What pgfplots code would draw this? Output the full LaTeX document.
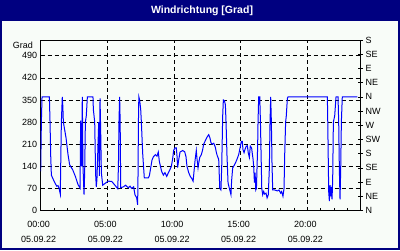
\documentclass[border=0pt]{standalone}
\usepackage{pgfplots}
\pgfplotsset{compat=1.18}
\usepackage{fontspec}
\setmainfont{Liberation Sans}
\definecolor{navy}{HTML}{000080}
\definecolor{panel}{HTML}{F8FCF8}
\definecolor{wblue}{HTML}{0000FF}
\begin{document}
\begin{tikzpicture}[x=1pt,y=1pt]
\useasboundingbox (0pt,0pt) rectangle (400pt,250pt);
\fill[navy] (0pt,0pt) rectangle (400pt,250pt);
\fill[panel] (2pt,2pt) rectangle (398pt,229.5pt);
\node[white,font=\fontsize{10.5}{12}\selectfont\bfseries] at (202pt,239.5pt) {Windrichtung [Grad]};
\begin{axis}[
  at={(40.7pt,39.5pt)}, anchor=south west,
  scale only axis, width=320pt, height=170.5pt,
  xmin=0, xmax=24, ymin=0, ymax=540,
  axis background/.style={fill=panel},
  axis line style={black, line width=0.8pt},
  xtick={0,5,10,15,20},
  xticklabels={{00:00\\05.09.22},{05:00\\05.09.22},{10:00\\05.09.22},{15:00\\05.09.22},{20:00\\05.09.22}},
  xticklabel style={align=center, font=\fontsize{9}{14.3}\selectfont, yshift=-7.5pt, xshift=-2pt},
  minor xtick={1,2,3,4,6,7,8,9,11,12,13,14,16,17,18,19,21,22,23},
  xtick pos=bottom,
  ytick={0,70,140,210,280,350,420,490},
  ytick pos=left,
  yticklabel style={font=\fontsize{9}{10}\selectfont},
  /pgf/number format/assume math mode=true,
  major tick length=3pt, minor tick length=3pt,
  tick style={black, line width=0.6pt},
  xmajorgrids, ymajorgrids,
  major grid style={black, line width=0.7pt, dash pattern=on 4pt off 3pt},
]
\addplot[wblue, line width=1pt] coordinates {
(0.00,124)(0.05,280)(0.10,360)(0.65,360)(0.70,280)(0.75,175)(0.80,112)
(1.00,93)(1.20,77)(1.30,79)(1.38,70)(1.47,52)(1.50,140)(1.55,280)(1.62,360)
(1.66,330)(1.70,280)(1.90,230)(2.05,177)(2.17,145)(2.40,129)(2.60,108)(2.80,82)
(2.95,71)(3.00,285)(3.07,140)(3.12,360)(3.17,140)(3.25,50)(3.30,124)(3.35,280)
(3.42,300)(3.50,360)(3.92,360)(3.95,320)(4.05,280)(4.10,160)(4.12,115)(4.17,75)
(4.22,100)(4.35,280)(4.40,110)(4.45,355)(4.50,250)(4.55,120)(4.65,80)(4.80,85)
(5.07,93)(5.33,92)(5.57,80)(5.78,69)(5.83,140)(5.87,280)(5.92,360)(5.96,280)
(6.00,72)(6.20,75)(6.37,80)(6.57,72)(6.70,77)(6.82,70)(6.97,75)(7.07,50)
(7.20,40)(7.27,18)(7.30,115)(7.33,280)(7.36,360)(7.42,350)(7.50,320)(7.55,280)
(7.65,180)(7.77,103)(8.07,103)(8.15,110)(8.25,135)(8.35,160)(8.45,170)(8.60,177)
(8.72,172)(8.82,185)(8.90,155)(9.07,124)(9.20,112)(9.32,120)(9.45,108)(9.58,120)
(9.70,130)(9.80,140)(9.90,165)(9.97,190)(10.07,198)(10.17,198)(10.22,175)(10.27,136)
(10.35,160)(10.45,185)(10.65,190)(10.80,186)(10.90,170)(10.97,140)(11.10,120)(11.22,108)
(11.35,100)(11.43,93)(11.50,124)(11.58,160)(11.67,190)(11.72,165)(11.80,135)(11.85,150)
(11.93,168)(12.05,177)(12.15,193)(12.22,210)(12.38,224)(12.47,232)(12.60,240)(12.68,232)
(12.77,215)(12.85,210)(12.98,213)(13.10,200)(13.17,185)(13.23,175)(13.35,162)(13.43,70)
(13.52,65)(13.58,145)(13.65,300)(13.70,350)(13.78,348)(13.85,335)(13.90,280)(13.97,177)
(14.05,88)(14.15,70)(14.27,50)(14.32,95)(14.40,135)(14.47,140)(14.60,150)(14.72,162)
(14.85,177)(14.95,198)(15.05,219)(15.12,219)(15.17,193)(15.25,183)(15.32,193)(15.42,204)
(15.50,205)(15.57,182)(15.65,168)(15.72,204)(15.82,198)(15.88,177)(15.93,162)(15.98,135)
(16.03,88)(16.08,120)(16.13,65)(16.18,70)(16.27,200)(16.30,280)(16.35,360)(16.43,360)
(16.48,280)(16.53,177)(16.58,70)(16.65,50)(16.72,60)(16.80,52)(16.90,55)(16.98,40)
(17.07,50)(17.15,135)(17.20,280)(17.25,360)(17.30,280)(17.35,145)(17.40,65)(17.55,65)
(17.75,62)(17.87,65)(18.00,55)(18.07,60)(18.17,45)(18.25,70)(18.30,177)(18.37,280)
(18.42,300)(18.50,355)(18.55,360)(21.50,360)(21.53,280)(21.60,60)(21.65,30)(21.70,80)
(21.75,45)(21.80,75)(21.85,35)(21.90,100)(21.95,280)(22.05,300)(22.15,360)(22.30,360)
(22.35,280)(22.40,130)(22.45,35)(22.50,130)(22.55,280)(22.62,360)(23.75,360)
};
\end{axis}
\begin{axis}[
  at={(40.7pt,39.5pt)}, anchor=south west,
  scale only axis, width=320pt, height=170.5pt,
  xmin=0, xmax=24, ymin=0, ymax=540,
  axis x line=none, axis y line*=right,
  axis line style={black, line width=0.8pt, -},
  ytick={0,45,...,540},
  yticklabels={N,NE,E,SE,S,SW,W,NW,N,NE,E,SE,S},
  yticklabel style={font=\fontsize{9}{10}\selectfont, xshift=-1pt},
  tick align=center, major tick length=5pt,
  tick style={black, line width=0.6pt},
]
\addplot[draw=none] coordinates {(0,0)};
\end{axis}
\node[font=\fontsize{9}{10}\selectfont, anchor=east] at (36.5pt,205pt) {Grad};
\end{tikzpicture}
\end{document}
